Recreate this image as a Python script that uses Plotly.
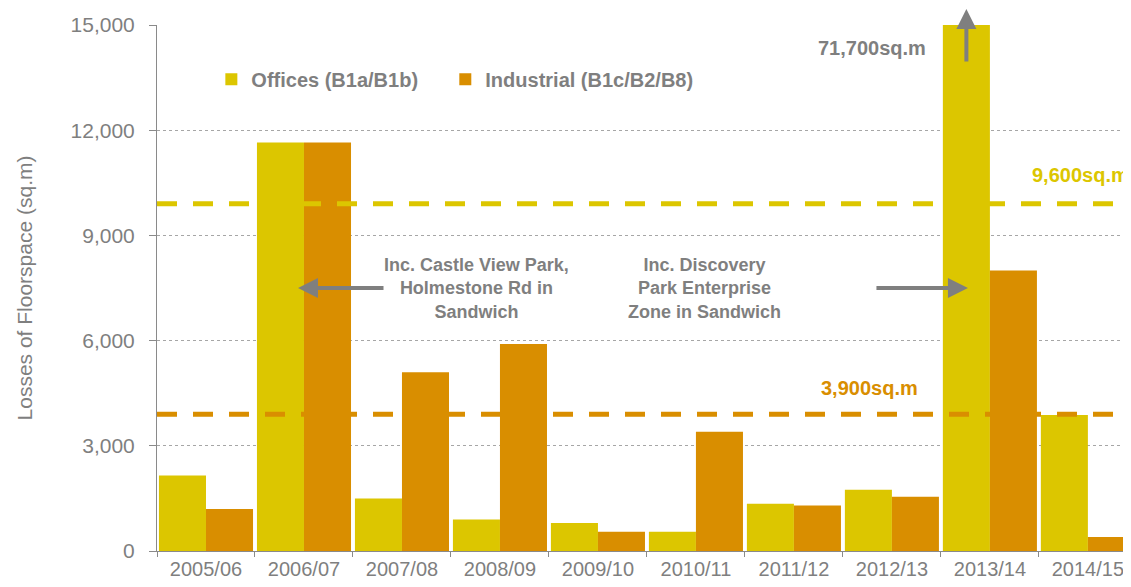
import plotly.graph_objects as go

years = ["2005/06", "2006/07", "2007/08", "2008/09", "2009/10",
         "2010/11", "2011/12", "2012/13", "2013/14", "2014/15"]
offices = [2150, 11650, 1500, 900, 800, 550, 1350, 1750, 71700, 3880]
industrial = [1200, 11650, 5100, 5900, 550, 3400, 1300, 1550, 8000, 400]
avg_offices = 9900      # drawn position of the 9,600 sq.m average line
avg_industrial = 3900
y_ticks = [0, 3000, 6000, 9000, 12000, 15000]

YELLOW = "#DCC600"
ORANGE = "#D98E00"
GREY = "#7F7F7F"
FONT = "Liberation Sans, Arial, sans-serif"

fig = go.Figure()
fig.add_trace(go.Bar(name="Offices (B1a/B1b)", x=years, y=offices, legend="legend",
                     marker=dict(color=YELLOW, line=dict(width=0))))
fig.add_trace(go.Bar(name="Industrial (B1c/B2/B8)", x=years, y=industrial, legend="legend2",
                     marker=dict(color=ORANGE, line=dict(width=0))))

for val, col in [(avg_offices, YELLOW), (avg_industrial, ORANGE)]:
    fig.add_shape(type="line", xref="paper", x0=0, x1=1, yref="y", y0=val, y1=val,
                  line=dict(color=col, width=5, dash="20px,16px"), layer="above")

ann_font = dict(family=FONT, size=18, color=GREY, weight="bold")
annotations = [
    dict(x=2.765, y=7500, xref="x", yref="y", showarrow=False, align="center",
         text="Inc. Castle View Park,<br>Holmestone Rd in<br>Sandwich", font=ann_font),
    dict(x=5.09, y=7500, xref="x", yref="y", showarrow=False, align="center",
         text="Inc. Discovery<br>Park Enterprise<br>Zone in Sandwich", font=ann_font),
    dict(x=6.796, y=14340, xref="x", yref="y", showarrow=False,
         text="71,700sq.m", font=dict(family=FONT, size=20, color=GREY, weight="bold")),
    dict(x=8.41, y=10720, xref="x", yref="y", showarrow=False, xanchor="left",
         text="9,600sq.m", font=dict(family=FONT, size=20, color=YELLOW, weight="bold")),
    dict(x=6.776, y=4650, xref="x", yref="y", showarrow=False,
         text="3,900sq.m", font=dict(family=FONT, size=20, color=ORANGE, weight="bold")),
    # arrows
    dict(x=0.939, y=7500, xref="x", yref="y", showarrow=True, ax=87, ay=0, text="",
         arrowhead=2, arrowsize=1, arrowwidth=4, arrowcolor=GREY),
    dict(x=7.776, y=7500, xref="x", yref="y", showarrow=True, ax=-93, ay=0, text="",
         arrowhead=2, arrowsize=1, arrowwidth=4, arrowcolor=GREY),
    dict(x=7.76, y=1.038, xref="x", yref="paper", showarrow=True, ax=0, ay=58, text="",
         arrowhead=2, arrowsize=1, arrowwidth=4, arrowcolor=GREY),
]

legend_common = dict(orientation="h", xanchor="left", y=0.897, yanchor="middle",
                     font=dict(family=FONT, size=20, color=GREY, weight="bold"),
                     bgcolor="rgba(0,0,0,0)", itemclick=False)

fig.update_layout(
    width=1123, height=579,
    margin=dict(l=149, r=0, t=17, b=36),
    paper_bgcolor="white", plot_bgcolor="white",
    barmode="group", bargap=0.04, bargroupgap=0,
    font=dict(family=FONT, color=GREY),
    showlegend=True,
    legend=dict(x=0.0558, **legend_common),
    legend2=dict(x=0.296, **legend_common),
    annotations=annotations,
)
fig.update_xaxes(type="category", range=[-0.5, 9.44], showline=True, linecolor="#8A8A8A",
                 linewidth=1, ticks="outside", tickson="boundaries", ticklen=5,
                 tickcolor="#8A8A8A", tickfont=dict(family=FONT, size=20, color=GREY),
                 showgrid=False, zeroline=False)
fig.update_yaxes(range=[0, 15000], tickvals=y_ticks, tickformat=",d",
                 showline=True, linecolor="#8A8A8A", linewidth=1,
                 ticks="outside", ticklen=7, tickcolor="#8A8A8A",
                 ticklabelstandoff=10,
                 tickfont=dict(family=FONT, size=21, color=GREY),
                 showgrid=True, gridcolor="#A6A6A6", gridwidth=1, griddash="dot",
                 zeroline=False,
                 title=dict(text="Losses of Floorspace (sq.m)", standoff=32,
                            font=dict(family=FONT, size=21, color=GREY)))

fig.write_html("out.html")
